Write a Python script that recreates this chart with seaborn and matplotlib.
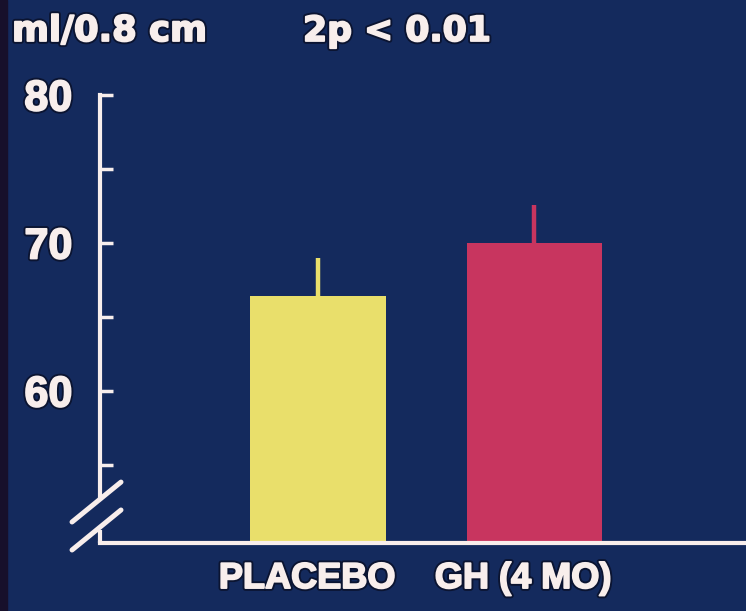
import matplotlib
matplotlib.use("Agg")
import matplotlib.pyplot as plt
import matplotlib.patheffects as pe
from matplotlib.patches import Rectangle
from matplotlib.transforms import ScaledTranslation
import seaborn as sns
import pandas as pd

# Data
groups = ["PLACEBO", "GH (4 MO)"]
means = [66.4, 70.0]
sem = [2.6, 2.6]
major_ticks = [60, 70, 80]
minor_ticks = [55, 65, 75]
unit_label = "ml/0.8 cm"
p_label = "2p < 0.01"

# Style
BG = "#142a5d"
INK = "#f8eeec"
bar_colors = ["#e9df6b", "#c8355f"]
# dark halo plus a thin same-colour stroke to give the heavy slide lettering
outline = [pe.Stroke(linewidth=4, foreground="#0b1431"),
           pe.Stroke(linewidth=1.3, foreground=INK),
           pe.Normal()]

sns.set_theme(style="white")
plt.rcParams["font.family"] = ["Liberation Sans", "DejaVu Sans"]

fig = plt.figure(figsize=(7.46, 6.11), dpi=100, facecolor=BG)
ax = fig.add_axes([100 / 746, 68 / 611, 646 / 746, 448 / 611], facecolor=BG)

df = pd.DataFrame({"group": groups, "mean": means})
sns.barplot(data=df, x="group", y="mean", hue="group", palette=bar_colors,
            width=0.625, saturation=1, legend=False, linewidth=0, ax=ax)

# upper-only error bars in the colour of each bar
positions = list(range(len(groups)))
ax.vlines(positions, means, [m + s for m, s in zip(means, sem)],
          colors=bar_colors, linewidth=3.2, zorder=3)

y_bottom = 49.73
ax.set_ylim(y_bottom, 80)
ax.set_xlim(-1.009, 1.981)
ax.set_xlabel("")
ax.set_ylabel("")

ax.set_yticks(major_ticks)
ax.set_yticks(minor_ticks, minor=True)
ax.set_yticklabels([str(t) for t in major_ticks])
ax.tick_params(axis="y", which="both", direction="in", length=9.5, width=2.5,
               color=INK, left=True, right=False)
ax.tick_params(axis="y", which="major", pad=20, labelsize=31, labelcolor=INK)
ax.tick_params(axis="x", length=0, pad=13, labelsize=26, labelcolor=INK)
for lab in ax.get_yticklabels():
    lab.set_fontweight("bold")
    lab.set_path_effects(outline)
shift = ScaledTranslation(-11 / 100, 0, fig.dpi_scale_trans)
for lab in ax.get_xticklabels():
    lab.set_fontweight("bold")
    lab.set_path_effects(outline)
    lab.set_transform(lab.get_transform() + shift)

for side in ("top", "right"):
    ax.spines[side].set_visible(False)
ax.spines["bottom"].set_color(INK)
ax.spines["bottom"].set_linewidth(3)
ax.spines["bottom"].set_zorder(4)
ax.spines["left"].set_color(INK)
ax.spines["left"].set_linewidth(3)
ax.spines["left"].set_bounds(52.8, 80)

# axis break: short stub at the origin and two slashes
ax.plot([0, 0], [y_bottom, 50.6], transform=ax.get_yaxis_transform(),
        color=INK, linewidth=3, clip_on=False, solid_capstyle="butt")
for y0, y1 in [(0.0469, 0.136), (-0.0156, 0.0737)]:
    ax.plot([-0.0433, 0.0325], [y0, y1], transform=ax.transAxes,
            color=INK, linewidth=3.6, clip_on=False, solid_capstyle="round",
            zorder=5)

fig.text(12 / 746, (611 - 41) / 611, unit_label, color=INK, fontsize=25.5,
         fontweight="bold", family="DejaVu Sans", va="baseline", ha="left",
         path_effects=outline)
fig.text(303 / 746, (611 - 41) / 611, p_label, color=INK, fontsize=25,
         fontweight="bold", family="DejaVu Sans", va="baseline", ha="left",
         path_effects=outline)

# dark strip along the left edge of the slide
fig.patches.append(Rectangle((0, 0), 7 / 746, 1, transform=fig.transFigure,
                             color="#17102b", zorder=0))

fig.savefig("out.png", dpi=100, facecolor=BG)
